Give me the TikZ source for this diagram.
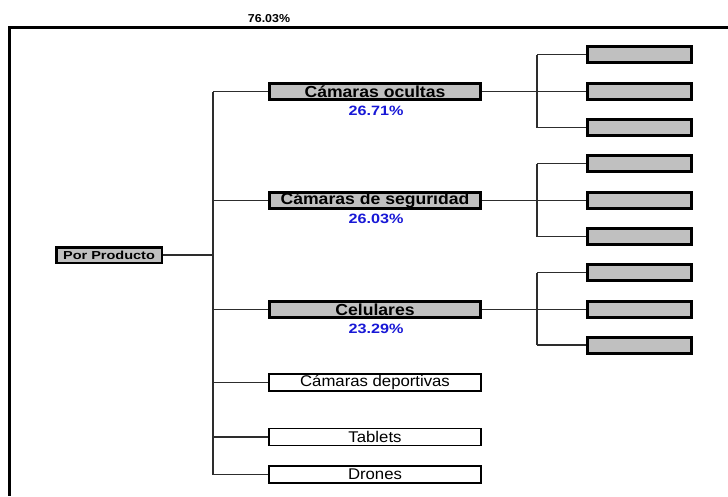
\documentclass[tikz,border=0pt]{standalone}
\usepackage{fontspec}
\setmainfont{Liberation Sans}
\newfontfamily\boxfont{Liberation Sans}[FakeStretch=1.1]
\newfontfamily\tagfont{Liberation Sans}[FakeStretch=1.25]
\newfontfamily\pctfont{Liberation Sans}[FakeStretch=1.2]
\newfontfamily\headfont{Liberation Sans}[FakeStretch=1.08]
\newfontfamily\plainfont{Liberation Sans}[FakeStretch=1.08]
\definecolor{boxgray}{RGB}{192,192,192}
\definecolor{pctblue}{RGB}{24,24,214}
\definecolor{linegray}{RGB}{45,45,45}
\tikzset{
  conn/.style={draw=linegray, line width=1.4pt},
  rootbox/.style={draw=black, line width=2.5pt, fill=boxgray, inner sep=0pt,
    minimum width=105.5pt, minimum height=15.5pt,
    font=\tagfont\bfseries\fontsize{11.6}{12}\selectfont},
  mainbox/.style={draw=black, line width=3pt, fill=boxgray, inner sep=0pt,
    minimum width=211pt, minimum height=16pt,
    font=\boxfont\bfseries\fontsize{16}{17}\selectfont},
  plainbox/.style={draw=black, line width=1.8pt, fill=white, inner sep=0pt,
    minimum width=212pt, minimum height=17pt,
    font=\plainfont\fontsize{15.5}{16}\selectfont},
  leafbox/.style={draw=black, line width=3pt, fill=boxgray, inner sep=0pt,
    minimum width=104pt, minimum height=16pt},
  pct/.style={text=pctblue, inner sep=0pt,
    font=\pctfont\bfseries\fontsize{13.5}{14}\selectfont},
  headline/.style={inner sep=0pt, font=\headfont\bfseries\fontsize{11.5}{12}\selectfont}
}
\begin{document}
\begin{tikzpicture}[x=1pt, y=-1pt]
\useasboundingbox (0,0) rectangle (728,496);

% heading and open frame
\node[headline] (head) at (269,18.5) {76.03\%};
\draw[line width=3pt] (728,27.5) -- (9.5,27.5) -- (9.5,496);

% root
\node[rootbox] (root) at (109,255) {Por Producto};

% first level
\node[mainbox]  (l1) at (375,91.5)  {Cámaras ocultas};
\node[mainbox]  (l2) at (375,200.5) {Cámaras de seguridad};
\node[mainbox]  (l3) at (375,309.5) {Celulares};
\node[plainbox] (l4) at (375,382.5) {Cámaras deportivas};
\node[plainbox] (l5) at (375,437)   {Tablets};
\node[plainbox] (l6) at (375,474.5) {Drones};

\node[pct] (p1) at (376,110.5) {26.71\%};
\node[pct] (p2) at (376,219) {26.03\%};
\node[pct] (p3) at (376,328.5) {23.29\%};

% second level
\node[leafbox] (s11) at (639.5,54.5) {};
\node[leafbox] (s12) at (639.5,91.5) {};
\node[leafbox] (s13) at (639.5,127.5) {};
\node[leafbox] (s21) at (639.5,163.5) {};
\node[leafbox] (s22) at (639.5,200.5) {};
\node[leafbox] (s23) at (639.5,236.5) {};
\node[leafbox] (s31) at (639.5,272.5) {};
\node[leafbox] (s32) at (639.5,309.5) {};
\node[leafbox] (s33) at (639.5,345) {};

% trunk from the root
\coordinate (tx) at (213,0);
\draw[conn] (root.east) -- (root.east -| tx);
\draw[conn] (tx |- l1.west) -- (tx |- l6.west);
\foreach \n in {l1,l2,l3,l4,l5,l6}
  \draw[conn] (tx |- \n.west) -- (\n.west);

% branches to the second level
\coordinate (bx) at (537,0);
\foreach \g/\a/\b/\c in {l1/s11/s12/s13, l2/s21/s22/s23, l3/s31/s32/s33}{
  \draw[conn] (\g.east) -- (\g.east -| bx);
  \draw[conn] (bx |- \a.west) -- (bx |- \c.west);
  \foreach \s in {\a,\b,\c}
    \draw[conn] (bx |- \s.west) -- (\s.west);
}
\end{tikzpicture}
\end{document}
